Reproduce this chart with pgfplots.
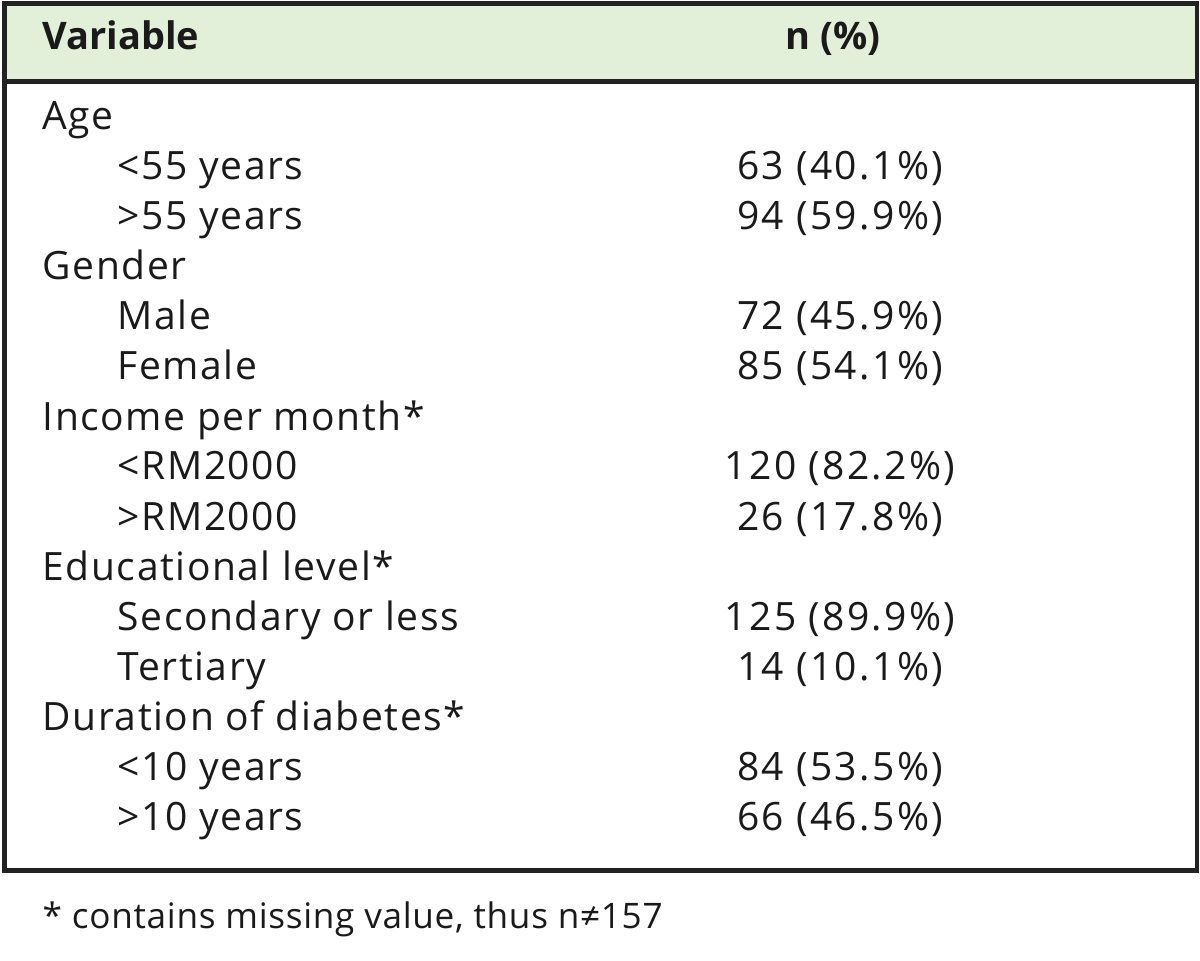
\documentclass[border=0pt]{standalone}
\usepackage{pgfplots}
\pgfplotsset{compat=1.18}
\usepackage{fontspec}
\setmainfont{Open Sans}
\newfontfamily\labfont[LetterSpace=4]{Open Sans}
\newfontfamily\valfont[LetterSpace=6]{Open Sans}
\newfontfamily\notefont[LetterSpace=2]{Open Sans}
\definecolor{headergreen}{HTML}{E2EFD9}
\definecolor{framecol}{HTML}{222222}
\definecolor{txt}{HTML}{1A1A1A}
\begin{document}
\begin{tikzpicture}
\begin{axis}[
  scale only axis, width=12cm, height=9.61cm,
  xmin=0, xmax=1200, ymin=0, ymax=961, y dir=reverse,
  hide axis, clip=false,
  every node near coord/.append style={inner sep=0pt, text=txt},
]
\path (rel axis cs:0,0) rectangle (rel axis cs:1,1);
% header background and frame
\fill[headergreen] (axis cs:4.5,3.5) rectangle (axis cs:1197,81.5);
\draw[framecol, line width=1.15pt] (axis cs:4.5,3.5) rectangle (axis cs:1197,870.5);
\draw[framecol, line width=1.15pt] (axis cs:4.5,81.5) -- (axis cs:1197,81.5);
% header
\addplot[only marks, mark=none, point meta=explicit symbolic, nodes near coords,
  every node near coord/.append style={anchor=base west, font=\fontsize{10.8}{13}\selectfont\bfseries}]
  coordinates {(42,50)[Variable]};
\addplot[only marks, mark=none, point meta=explicit symbolic, nodes near coords,
  every node near coord/.append style={anchor=base, font=\fontsize{10.8}{13}\selectfont\bfseries}]
  coordinates {(833,50)[n (\%)]};
% variable column
\addplot[only marks, mark=none, point meta=explicit symbolic, nodes near coords,
  every node near coord/.append style={anchor=base west, font=\labfont\fontsize{11.1}{13}\selectfont}]
  coordinates {
  (42,130)[Age]
  (117,180)[<55 years]
  (117,230)[>55 years]
  (42,280)[Gender]
  (117,330)[Male]
  (117,380)[Female]
  (42,430)[Income per month*]
  (117,480)[<RM2000]
  (117,530)[>RM2000]
  (42,580)[Educational level*]
  (117,630)[Secondary or less]
  (117,680)[Tertiary]
  (42,730)[Duration of diabetes*]
  (117,780)[<10 years]
  (117,830)[>10 years]
  };
% n (%) column
\addplot[only marks, mark=none, point meta=explicit symbolic, nodes near coords,
  every node near coord/.append style={anchor=base, font=\valfont\fontsize{11.1}{13}\selectfont}]
  coordinates {
  (840,180)[63 (40.1\%)]
  (840,230)[94 (59.9\%)]
  (840,330)[72 (45.9\%)]
  (840,380)[85 (54.1\%)]
  (840,480)[120 (82.2\%)]
  (840,530)[26 (17.8\%)]
  (840,630)[125 (89.9\%)]
  (840,680)[14 (10.1\%)]
  (840,780)[84 (53.5\%)]
  (840,830)[66 (46.5\%)]
  };
% footnote
\addplot[only marks, mark=none, point meta=explicit symbolic, nodes near coords,
  every node near coord/.append style={anchor=base west, font=\notefont\fontsize{10}{12}\selectfont}]
  coordinates {(42,928)[* contains missing value, thus n≠157]};
\end{axis}
\end{tikzpicture}
\end{document}
